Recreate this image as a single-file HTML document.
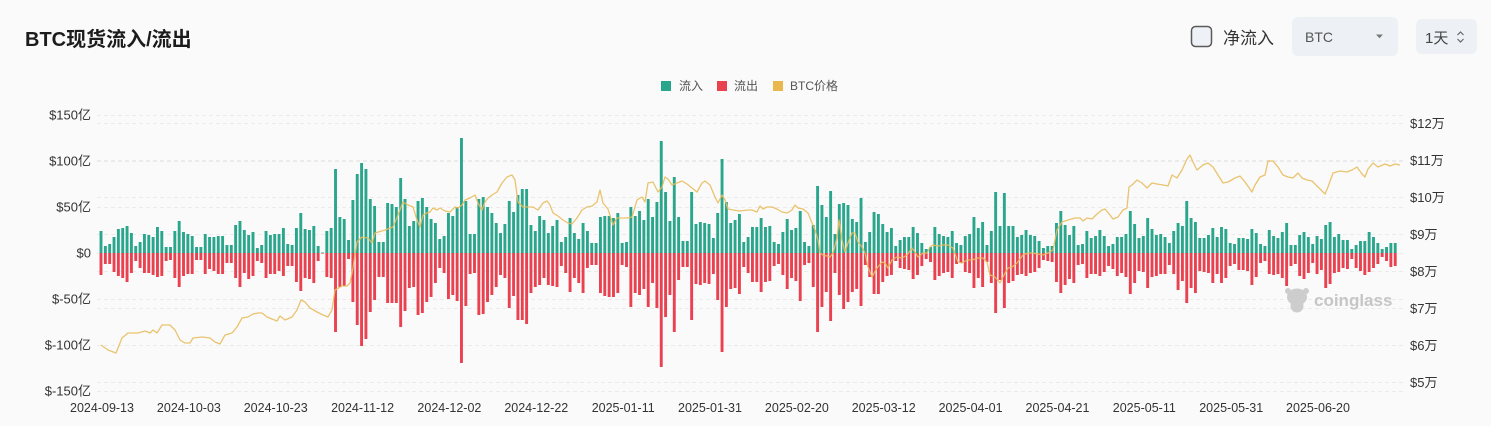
<!DOCTYPE html>
<html><head><meta charset="utf-8"><style>
html,body{margin:0;padding:0;background:#fafafa;}
svg{display:block;font-family:"Liberation Sans","Noto Sans CJK SC",sans-serif;}
</style></head><body>
<svg width="1491" height="426" viewBox="0 0 1491 426" xmlns="http://www.w3.org/2000/svg">
<rect width="1491" height="426" fill="#fafafa"/>
<text x="25" y="46" font-size="20" font-weight="bold" fill="#1c1c1c">BTC现货流入/流出</text>
<rect x="1191.5" y="26.5" width="20" height="20" rx="4" fill="#eef1f5" stroke="#5a5a5a" stroke-width="1.5"/>
<text x="1223" y="44" font-size="17" fill="#333">净流入</text>
<rect x="1292" y="17" width="106" height="39" rx="6" fill="#edf0f4"/>
<text x="1305" y="42" font-size="14" fill="#555">BTC</text>
<path d="M1376 34.5h7l-3.5 3.8z" fill="#777"/>
<rect x="1416" y="19" width="61" height="35" rx="6" fill="#edf0f4"/>
<text x="1425" y="43" font-size="15" fill="#444">1天</text>
<path d="M1457.5 35l3-3 3 3M1457.5 39l3 3 3-3" fill="none" stroke="#666" stroke-width="1.2"/>
<rect x="661" y="81" width="10" height="10" fill="#2aa68c"/>
<text x="679" y="90" font-size="12" fill="#555">流入</text>
<rect x="717" y="81" width="10" height="10" fill="#e9414f"/>
<text x="734" y="90" font-size="12" fill="#555">流出</text>
<rect x="773" y="81" width="10" height="10" fill="#e8b84c"/>
<text x="790" y="90" font-size="12" fill="#555">BTC价格</text>
<g stroke="#ebebeb" stroke-width="1" stroke-dasharray="4 3">
<path d="M97 115.5H1403M97 161.5H1403M97 207.5H1403M97 253.5H1403M97 299.5H1403M97 345.5H1403M97 391.5H1403"/>
<path d="M97 123.5H1403M97 160.5H1403M97 197.5H1403M97 234.5H1403M97 271.5H1403M97 308.5H1403M97 382.5H1403"/>
</g>
<g font-size="13" fill="#333" text-anchor="end">
<text x="91" y="119.5">$150亿</text>
<text x="91" y="165.5">$100亿</text>
<text x="91" y="211.5">$50亿</text>
<text x="91" y="257.5">$0</text>
<text x="91" y="303.5">$-50亿</text>
<text x="91" y="349.5">$-100亿</text>
<text x="91" y="395.5">$-150亿</text>
</g>
<g font-size="13" fill="#333">
<text x="1410" y="128">$12万</text>
<text x="1410" y="165">$11万</text>
<text x="1410" y="202">$10万</text>
<text x="1410" y="239">$9万</text>
<text x="1410" y="276">$8万</text>
<text x="1410" y="313">$7万</text>
<text x="1410" y="350">$6万</text>
<text x="1410" y="387">$5万</text>
</g>
<g font-size="12.5" fill="#333" text-anchor="middle">
<text x="102" y="412">2024-09-13</text>
<text x="188.9" y="412">2024-10-03</text>
<text x="275.7" y="412">2024-10-23</text>
<text x="362.6" y="412">2024-11-12</text>
<text x="449.4" y="412">2024-12-02</text>
<text x="536.3" y="412">2024-12-22</text>
<text x="623.2" y="412">2025-01-11</text>
<text x="710" y="412">2025-01-31</text>
<text x="796.9" y="412">2025-02-20</text>
<text x="883.7" y="412">2025-03-12</text>
<text x="970.6" y="412">2025-04-01</text>
<text x="1057.5" y="412">2025-04-21</text>
<text x="1144.3" y="412">2025-05-11</text>
<text x="1231.2" y="412">2025-05-31</text>
<text x="1318" y="412">2025-06-20</text>
</g>
<g fill="#cdcdcd">
<ellipse cx="1297" cy="297" rx="10" ry="8.5"/>
<ellipse cx="1297" cy="306" rx="6.5" ry="6.5"/>
<circle cx="1288" cy="291" r="3"/>
<circle cx="1306" cy="291" r="3"/>
</g>
<text x="1314" y="306" font-size="17" font-weight="bold" fill="#c6c6c6">coinglass</text>
<path fill="none" stroke="#2aa68c" stroke-width="2.9" d="M101 253v-22m4.343 22v-7m4.343 7v-9m4.343 9v-16m4.343 16v-24m4.343 24v-25m4.343 25v-27m4.343 27v-20m4.343 20v-7m4.343 7v-11m4.343 11v-19m4.343 19v-18m4.343 18v-16m4.343 16v-26m4.343 26v-22m4.343 22v-6m4.343 6v-6m4.343 6v-22m4.343 22v-32m4.343 32v-21m4.343 21v-19m4.343 19v-17m4.343 17v-6m4.343 6v-6m4.343 6v-19m4.343 19v-16m4.343 16v-16m4.343 16v-17m4.343 17v-17m4.343 17v-8m4.343 8v-8m4.343 8v-28m4.343 28v-32m4.343 32v-23m4.343 23v-18m4.343 18v-21m4.343 21v-5m4.343 5v-8m4.343 8v-22m4.343 22v-18m4.343 18v-19m4.343 19v-19m4.343 19v-25m4.343 25v-9m4.343 9v-8m4.343 8v-25m4.343 25v-40m4.343 40v-24m4.343 24v-23m4.343 23v-27m4.343 27v-7m4.343 7v-0.5m4.343 0.5v-22m4.343 22v-25m4.343 25v-84m4.343 84v-36m4.343 36v-34m4.343 34v-13m4.343 13v-53m4.343 53v-79m4.343 79v-90m4.343 90v-84m4.343 84v-54m4.343 54v-47m4.343 47v-11m4.343 11v-11m4.343 11v-50m4.343 50v-49m4.343 49v-46m4.343 46v-75m4.343 75v-54m4.343 54v-27m4.343 27v-32m4.343 32v-52m4.343 52v-55m4.343 55v-46m4.343 46v-34m4.343 34v-30m4.343 30v-14m4.343 14v-17m4.343 17v-40m4.343 40v-37m4.343 37v-46m4.343 46v-115m4.343 115v-52m4.343 52v-19m4.343 19v-19m4.343 19v-54m4.343 54v-56m4.343 56v-46m4.343 46v-40m4.343 40v-30m4.343 30v-20m4.343 20v-29m4.343 29v-52m4.343 52v-41m4.343 41v-58m4.343 58v-64m4.343 64v-64m4.343 64v-28m4.343 28v-22m4.343 22v-37m4.343 37v-33m4.343 33v-20m4.343 20v-27m4.343 27v-33m4.343 33v-11m4.343 11v-16m4.343 16v-35m4.343 35v-20m4.343 20v-14m4.343 14v-30m4.343 30v-22m4.343 22v-10m4.343 10v-10m4.343 10v-36m4.343 36v-37m4.343 37v-37m4.343 37v-35m4.343 35v-40m4.343 40v-10m4.343 10v-11m4.343 11v-46m4.343 46v-37m4.343 37v-42m4.343 42v-33m4.343 33v-54m4.343 54v-36m4.343 36v-51m4.343 51v-112m4.343 112v-61m4.343 61v-32m4.343 32v-76m4.343 76v-36m4.343 36v-12m4.343 12v-12m4.343 12v-61m4.343 61v-29m4.343 29v-31m4.343 31v-30m4.343 30v-29m4.343 29v-15m4.343 15v-40m4.343 40v-94m4.343 94v-51m4.343 51v-30m4.343 30v-33m4.343 33v-39m4.343 39v-11m4.343 11v-16m4.343 16v-26m4.343 26v-26m4.343 26v-35m4.343 35v-26m4.343 26v-27m4.343 27v-11m4.343 11v-9m4.343 9v-21m4.343 21v-34m4.343 34v-23m4.343 23v-25m4.343 25v-42m4.343 42v-11m4.343 11v-7m4.343 7v-28m4.343 28v-67m4.343 67v-48m4.343 48v-36m4.343 36v-62m4.343 62v-19m4.343 19v-49m4.343 49v-50m4.343 50v-48m4.343 48v-34m4.343 34v-31m4.343 31v-55m4.343 55v-11m4.343 11v-21m4.343 21v-41m4.343 41v-39m4.343 39v-29m4.343 29v-21m4.343 21v-25m4.343 25v-7m4.343 7v-13m4.343 13v-16m4.343 16v-16m4.343 16v-26m4.343 26v-20m4.343 20v-10m4.343 10v-4m4.343 4v-6m4.343 6v-26m4.343 26v-19m4.343 19v-17m4.343 17v-16m4.343 16v-22m4.343 22v-10m4.343 10v-8m4.343 8v-17m4.343 17v-19m4.343 19v-36m4.343 36v-25m4.343 25v-31m4.343 31v-8m4.343 8v-22m4.343 22v-61m4.343 61v-27m4.343 27v-60m4.343 60v-27m4.343 27v-27m4.343 27v-16m4.343 16v-18m4.343 18v-23m4.343 23v-18m4.343 18v-17m4.343 17v-12m4.343 12v-5m4.343 5v-7m4.343 7v-7m4.343 7v-30m4.343 30v-42m4.343 42v-28m4.343 28v-18m4.343 18v-27m4.343 27v-8m4.343 8v-9m4.343 9v-22m4.343 22v-15m4.343 15v-17m4.343 17v-23m4.343 23v-17m4.343 17v-7m4.343 7v-9m4.343 9v-16m4.343 16v-16m4.343 16v-19m4.343 19v-42m4.343 42v-29m4.343 29v-15m4.343 15v-17m4.343 17v-35m4.343 35v-24m4.343 24v-18m4.343 18v-19m4.343 19v-16m4.343 16v-10m4.343 10v-22m4.343 22v-30m4.343 30v-27m4.343 27v-52m4.343 52v-35m4.343 35v-31m4.343 31v-15m4.343 15v-15m4.343 15v-18m4.343 18v-25m4.343 25v-16m4.343 16v-26m4.343 26v-24m4.343 24v-10m4.343 10v-9m4.343 9v-15m4.343 15v-15m4.343 15v-14m4.343 14v-24m4.343 24v-20m4.343 20v-9m4.343 9v-7m4.343 7v-23m4.343 23v-17m4.343 17v-15m4.343 15v-21m4.343 21v-30m4.343 30v-8m4.343 8v-8m4.343 8v-18m4.343 18v-21m4.343 21v-16m4.343 16v-9m4.343 9v-17m4.343 17v-14m4.343 14v-28m4.343 28v-31m4.343 31v-16m4.343 16v-19m4.343 19v-13m4.343 13v-13m4.343 13v-4m4.343 4v-8m4.343 8v-12m4.343 12v-12m4.343 12v-21m4.343 21v-16m4.343 16v-10m4.343 10v-4m4.343 4v-6m4.343 6v-10m4.343 10v-10"/>
<path fill="none" stroke="#e9414f" stroke-width="2.9" d="M101 253v22m4.343-22v11m4.343-11v11m4.343-11v19m4.343-19v23m4.343-23v25m4.343-25v29m4.343-29v20m4.343-20v8m4.343-8v15m4.343-15v20m4.343-20v20m4.343-20v22m4.343-22v24m4.343-24v23m4.343-23v8m4.343-8v7m4.343-7v25m4.343-25v34m4.343-34v23m4.343-23v21m4.343-21v21m4.343-21v7m4.343-7v7m4.343-7v21m4.343-21v16m4.343-16v18m4.343-18v21m4.343-21v21m4.343-21v10m4.343-10v10m4.343-10v25m4.343-25v34m4.343-34v20m4.343-20v26m4.343-26v23m4.343-23v8m4.343-8v10m4.343-10v25m4.343-25v21m4.343-21v21m4.343-21v18m4.343-18v23m4.343-23v13m4.343-13v13m4.343-13v29m4.343-29v38m4.343-38v25m4.343-25v26m4.343-26v30m4.343-30v8m4.343-8v0.5m4.343-0.5v24m4.343-24v25m4.343-25v79m4.343-79v34m4.343-34v33m4.343-33v6m4.343-6v49m4.343-49v72m4.343-72v93m4.343-93v86m4.343-86v59m4.343-59v47m4.343-47v24m4.343-24v24m4.343-24v50m4.343-50v50m4.343-50v50m4.343-50v74m4.343-74v58m4.343-58v35m4.343-35v34m4.343-34v62m4.343-62v60m4.343-60v49m4.343-49v44m4.343-44v30m4.343-30v15m4.343-15v20m4.343-20v46m4.343-46v42m4.343-42v48m4.343-48v110m4.343-110v53m4.343-53v21m4.343-21v20m4.343-20v62m4.343-62v61m4.343-61v49m4.343-49v42m4.343-42v34m4.343-34v22m4.343-22v25m4.343-25v55m4.343-55v43m4.343-43v67m4.343-67v67m4.343-67v71m4.343-71v40m4.343-40v34m4.343-34v32m4.343-32v25m4.343-25v32m4.343-32v33m4.343-33v34m4.343-34v13m4.343-13v20m4.343-20v39m4.343-39v25m4.343-25v30m4.343-30v40m4.343-40v15m4.343-15v12m4.343-12v12m4.343-12v40m4.343-40v43m4.343-43v44m4.343-44v44m4.343-44v40m4.343-40v12m4.343-12v14m4.343-14v54m4.343-54v40m4.343-40v42m4.343-42v36m4.343-36v54m4.343-54v30m4.343-30v55m4.343-55v114m4.343-114v64m4.343-64v42m4.343-42v79m4.343-79v27m4.343-27v14m4.343-14v14m4.343-14v67m4.343-67v31m4.343-31v32m4.343-32v30m4.343-30v31m4.343-31v21m4.343-21v47m4.343-47v99m4.343-99v54m4.343-54v36m4.343-36v35m4.343-35v41m4.343-41v14m4.343-14v20m4.343-20v29m4.343-29v29m4.343-29v39m4.343-39v29m4.343-29v28m4.343-28v13m4.343-13v11m4.343-11v22m4.343-22v36m4.343-36v25m4.343-25v28m4.343-28v48m4.343-48v12m4.343-12v10m4.343-10v34m4.343-34v79m4.343-79v54m4.343-54v39m4.343-39v68m4.343-68v20m4.343-20v42m4.343-42v56m4.343-56v49m4.343-49v39m4.343-39v36m4.343-36v53m4.343-53v12m4.343-12v24m4.343-24v41m4.343-41v41m4.343-41v29m4.343-29v23m4.343-23v22m4.343-22v8m4.343-8v15m4.343-15v16m4.343-16v17m4.343-17v26m4.343-26v22m4.343-22v13m4.343-13v6m4.343-6v9m4.343-9v27m4.343-27v23m4.343-23v20m4.343-20v19m4.343-19v25m4.343-25v11m4.343-11v10m4.343-10v19m4.343-19v20m4.343-20v35m4.343-35v25m4.343-25v34m4.343-34v9m4.343-9v30m4.343-30v60m4.343-60v27m4.343-27v55m4.343-55v30m4.343-30v28m4.343-28v22m4.343-22v21m4.343-21v23m4.343-23v20m4.343-20v19m4.343-19v15m4.343-15v7m4.343-7v8m4.343-8v9m4.343-9v29m4.343-29v40m4.343-40v32m4.343-32v26m4.343-26v30m4.343-30v12m4.343-12v11m4.343-11v25m4.343-25v21m4.343-21v21m4.343-21v23m4.343-23v19m4.343-19v13m4.343-13v16m4.343-16v23m4.343-23v20m4.343-20v24m4.343-24v41m4.343-41v30m4.343-30v18m4.343-18v19m4.343-19v35m4.343-35v24m4.343-24v23m4.343-23v21m4.343-21v21m4.343-21v12m4.343-12v21m4.343-21v37m4.343-37v28m4.343-28v50m4.343-50v35m4.343-35v40m4.343-40v18m4.343-18v19m4.343-19v20m4.343-20v30m4.343-30v21m4.343-21v30m4.343-30v25m4.343-25v13m4.343-13v11m4.343-11v17m4.343-17v17m4.343-17v18m4.343-18v32m4.343-32v24m4.343-24v10m4.343-10v8m4.343-8v21m4.343-21v22m4.343-22v21m4.343-21v25m4.343-25v33m4.343-33v13m4.343-13v11m4.343-11v23m4.343-23v26m4.343-26v20m4.343-20v10m4.343-10v21m4.343-21v17m4.343-17v35m4.343-35v31m4.343-31v20m4.343-20v19m4.343-19v15m4.343-15v16m4.343-16v6m4.343-6v15m4.343-15v18m4.343-18v22m4.343-22v19m4.343-19v15m4.343-15v11m4.343-11v4m4.343-4v8m4.343-8v14m4.343-14v13"/>
<polyline fill="none" stroke="#e8bd5e" stroke-opacity="0.9" stroke-width="1.3" stroke-linejoin="round" points="101,345 108,350 116,353 122,338 128,333 138,333 145,331 150,333 153,330 157,333 162,325 170,325 175,330 180,340 185,343 190,343 193,338 202,337 210,338 215,342 220,344 225,335 232,333 237,327 242,318 248,317 253,314 258,313 262,313 267,317 272,319 277,321 280,316 285,320 292,317 297,310 301,300 305,302 310,308 317,312 323,315 328,317 332,310 335,290 342,286 347,286 350,283 353,268 357,242 362,237 368,238 372,243 375,233 385,230 393,227 398,215 403,202 408,205 413,207 417,220 420,227 423,215 427,213 430,212 433,208 437,210 440,208 445,211 450,212 455,207 458,208 462,205 465,200 470,198 475,195 478,203 482,210 485,202 488,198 492,195 497,192 502,183 507,177 512,175 515,180 518,202 523,207 528,207 533,207 538,210 543,203 547,201 550,205 553,213 558,216 563,220 568,223 572,224 577,218 582,210 587,207 592,206 597,202 600,190 603,203 608,209 613,225 617,218 622,218 627,218 632,217 637,200 642,197 645,202 648,183 653,182 658,192 662,187 665,177 668,179 672,185 677,183 682,181 687,184 692,188 697,192 702,183 705,181 710,185 715,197 718,203 722,195 725,200 728,209 733,210 740,211 748,210 752,210 757,212 760,206 763,209 767,207 772,207 777,209 782,212 787,213 792,210 795,205 798,208 803,209 808,213 812,223 815,230 818,240 820,253 823,255 827,256 830,257 833,253 837,238 839,220 842,240 845,252 848,243 852,233 855,233 858,242 862,247 865,253 868,267 872,277 877,268 882,262 885,263 888,268 892,260 897,257 902,258 907,255 912,248 915,252 918,257 923,253 927,253 930,247 933,245 938,246 943,245 948,245 953,248 958,262 962,263 967,260 972,260 978,258 983,258 987,262 990,275 995,277 1000,283 1003,277 1008,268 1012,267 1017,263 1023,255 1028,253 1033,253 1038,254 1043,255 1048,253 1053,250 1057,230 1062,222 1068,220 1075,218 1080,218 1083,221 1087,218 1092,219 1097,214 1102,210 1105,209 1110,215 1113,219 1118,217 1123,210 1127,208 1129,187 1132,185 1137,180 1142,183 1147,188 1152,183 1157,184 1163,185 1168,186 1172,175 1177,178 1182,170 1187,159 1190,155 1193,162 1197,170 1203,165 1208,163 1213,167 1218,175 1223,183 1228,182 1235,178 1240,176 1245,182 1252,192 1255,185 1260,177 1265,175 1268,161 1273,161 1278,167 1283,175 1288,177 1293,178 1298,173 1302,178 1307,180 1312,181 1318,187 1325,194 1328,187 1333,173 1340,171 1347,172 1352,170 1357,167 1362,174 1365,177 1368,169 1373,163 1378,167 1385,164 1390,166 1395,164 1400,165"/>
</svg>
</body></html>
